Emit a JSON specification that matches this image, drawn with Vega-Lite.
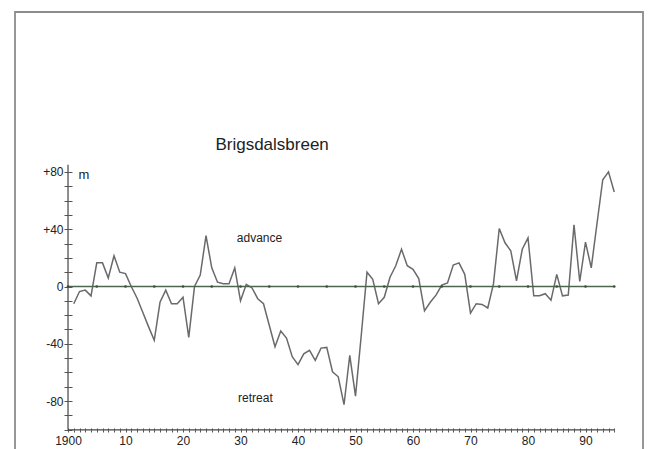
{
  "$schema": "https://vega.github.io/schema/vega-lite/v6.json",
  "width": 628,
  "height": 441,
  "autosize": {"type": "none"},
  "padding": {"left": 15, "top": 12, "right": 9, "bottom": 0},
  "background": "white",
  "config": {
    "view": {"stroke": "#8c8c8c", "strokeWidth": 1.8},
    "font": "Liberation Sans"
  },
  "resolve": {"axis": {"x": "independent", "y": "independent"}},
  "datasets": {
    "length": [
      {"year": 1901, "value": -12}, {"year": 1902, "value": -3.5}, {"year": 1903, "value": -2.5},
      {"year": 1904, "value": -6.5}, {"year": 1905, "value": 16.5}, {"year": 1906, "value": 16.5},
      {"year": 1907, "value": 6}, {"year": 1908, "value": 21.5}, {"year": 1909, "value": 10},
      {"year": 1910, "value": 9}, {"year": 1911, "value": 0}, {"year": 1912, "value": -8},
      {"year": 1913, "value": -18}, {"year": 1914, "value": -28}, {"year": 1915, "value": -37.5},
      {"year": 1916, "value": -11}, {"year": 1917, "value": -2.5}, {"year": 1918, "value": -12},
      {"year": 1919, "value": -12}, {"year": 1920, "value": -7.5}, {"year": 1921, "value": -35.5},
      {"year": 1922, "value": 0}, {"year": 1923, "value": 8}, {"year": 1924, "value": 35.5},
      {"year": 1925, "value": 13}, {"year": 1926, "value": 3}, {"year": 1927, "value": 2},
      {"year": 1928, "value": 2}, {"year": 1929, "value": 13}, {"year": 1930, "value": -10},
      {"year": 1931, "value": 1.5}, {"year": 1932, "value": -1}, {"year": 1933, "value": -8.5},
      {"year": 1934, "value": -12}, {"year": 1935, "value": -27}, {"year": 1936, "value": -42},
      {"year": 1937, "value": -31}, {"year": 1938, "value": -36}, {"year": 1939, "value": -49},
      {"year": 1940, "value": -54.5}, {"year": 1941, "value": -47}, {"year": 1942, "value": -44.5},
      {"year": 1943, "value": -51.5}, {"year": 1944, "value": -43}, {"year": 1945, "value": -42.5},
      {"year": 1946, "value": -59.5}, {"year": 1947, "value": -63}, {"year": 1948, "value": -82.5},
      {"year": 1949, "value": -48}, {"year": 1950, "value": -76.5}, {"year": 1951, "value": -34},
      {"year": 1952, "value": 10}, {"year": 1953, "value": 5}, {"year": 1954, "value": -12},
      {"year": 1955, "value": -7.5}, {"year": 1956, "value": 6.5}, {"year": 1957, "value": 14.5},
      {"year": 1958, "value": 26}, {"year": 1959, "value": 14.5}, {"year": 1960, "value": 12},
      {"year": 1961, "value": 5.5}, {"year": 1962, "value": -17}, {"year": 1963, "value": -11},
      {"year": 1964, "value": -6}, {"year": 1965, "value": 1}, {"year": 1966, "value": 2.5},
      {"year": 1967, "value": 15}, {"year": 1968, "value": 16.5}, {"year": 1969, "value": 8.5},
      {"year": 1970, "value": -18.5}, {"year": 1971, "value": -12}, {"year": 1972, "value": -12.5},
      {"year": 1973, "value": -15}, {"year": 1974, "value": 2}, {"year": 1975, "value": 40.5},
      {"year": 1976, "value": 30.5}, {"year": 1977, "value": 25}, {"year": 1978, "value": 4},
      {"year": 1979, "value": 26}, {"year": 1980, "value": 34}, {"year": 1981, "value": -6.5},
      {"year": 1982, "value": -6.5}, {"year": 1983, "value": -5}, {"year": 1984, "value": -9.5},
      {"year": 1985, "value": 8.5}, {"year": 1986, "value": -6.5}, {"year": 1987, "value": -6},
      {"year": 1988, "value": 43}, {"year": 1989, "value": 3.5}, {"year": 1990, "value": 31},
      {"year": 1991, "value": 13}, {"year": 1992, "value": 44}, {"year": 1993, "value": 74.5},
      {"year": 1994, "value": 80}, {"year": 1995, "value": 66}
    ],
    "zero": [
      {"year": 1900}, {"year": 1905}, {"year": 1910}, {"year": 1915}, {"year": 1920},
      {"year": 1925}, {"year": 1930}, {"year": 1935}, {"year": 1940}, {"year": 1945},
      {"year": 1950}, {"year": 1955}, {"year": 1960}, {"year": 1965}, {"year": 1970},
      {"year": 1975}, {"year": 1980}, {"year": 1985}, {"year": 1990}, {"year": 1995}
    ],
    "one": [{}]
  },
  "layer": [
    {
      "data": {"name": "length"},
      "mark": {"type": "line", "color": "#6a6a6a", "strokeWidth": 1.5},
      "encoding": {
        "x": {
          "field": "year", "type": "quantitative",
          "scale": {"domain": [1890.78, 2000], "nice": false, "zero": false},
          "axis": {
            "values": [1900,1901,1902,1903,1904,1905,1906,1907,1908,1909,1910,1911,1912,1913,1914,1915,1916,1917,1918,1919,1920,1921,1922,1923,1924,1925,1926,1927,1928,1929,1930,1931,1932,1933,1934,1935,1936,1937,1938,1939,1940,1941,1942,1943,1944,1945,1946,1947,1948,1949,1950,1951,1952,1953,1954,1955,1956,1957,1958,1959,1960,1961,1962,1963,1964,1965,1966,1967,1968,1969,1970,1971,1972,1973,1974,1975,1976,1977,1978,1979,1980,1981,1982,1983,1984,1985,1986,1987,1988,1989,1990,1991,1992,1993,1994,1995],
            "tickCount": 300,
            "offset": -23,
            "domain": false,
            "grid": false,
            "tickSize": 2,
            "tickColor": "#555",
            "labelExpr": "datum.value == 1900 ? '1900' : (datum.value % 10 == 0 ? '' + (datum.value - 1900) : '')",
            "labelOverlap": false,
            "labelFlush": false,
            "labelFontSize": 12,
            "labelColor": "#222",
            "labelPadding": 3,
            "title": null
          }
        },
        "y": {
          "field": "value", "type": "quantitative",
          "scale": {"domain": [-116.2, 191.6], "nice": false, "zero": false},
          "axis": {
            "values": [-100,-90,-80,-70,-60,-50,-40,-30,-20,-10,0,10,20,30,40,50,60,70,80],
            "tickCount": 100,
            "offset": -53,
            "domain": false,
            "grid": false,
            "tickSize": 4,
            "tickColor": "#555",
            "labelExpr": "datum.value % 40 == 0 ? (datum.value > 0 ? '+' + datum.value : '' + datum.value) : ''",
            "labelOverlap": false,
            "labelFlush": false,
            "labelFontSize": 12,
            "labelColor": "#222",
            "labelPadding": 1,
            "title": "m",
            "titleAngle": 0,
            "titleX": 10,
            "titleY": 162,
            "titleAlign": "left",
            "titleBaseline": "middle",
            "titleFontSize": 13,
            "titleFontWeight": "normal",
            "titleColor": "#222222"
          }
        }
      }
    },
    {
      "data": {"name": "one"},
      "mark": {"type": "rule", "color": "#4f6450", "strokeWidth": 1.3},
      "encoding": {
        "x": {
          "datum": 1900, "type": "quantitative",
          "scale": {"domain": [1890.78, 2000], "nice": false, "zero": false},
          "axis": {
            "orient": "top",
            "values": [1900,1901,1902,1903,1904,1905,1906,1907,1908,1909,1910,1911,1912,1913,1914,1915,1916,1917,1918,1919,1920,1921,1922,1923,1924,1925,1926,1927,1928,1929,1930,1931,1932,1933,1934,1935,1936,1937,1938,1939,1940,1941,1942,1943,1944,1945,1946,1947,1948,1949,1950,1951,1952,1953,1954,1955,1956,1957,1958,1959,1960,1961,1962,1963,1964,1965,1966,1967,1968,1969,1970,1971,1972,1973,1974,1975,1976,1977,1978,1979,1980,1981,1982,1983,1984,1985,1986,1987,1988,1989,1990,1991,1992,1993,1994,1995],
            "tickCount": 300,
            "offset": -418,
            "domain": false,
            "grid": false,
            "labels": false,
            "tickSize": 2,
            "tickColor": "#555",
            "title": null
          }
        },
        "x2": {"datum": 1995},
        "y": {
          "datum": 0, "type": "quantitative",
          "scale": {"domain": [-116.2, 191.6], "nice": false, "zero": false},
          "axis": {
            "orient": "right",
            "values": [-100,-90,-80,-70,-60,-50,-40,-30,-20,-10,0,10,20,30,40,50,60,70,80],
            "tickCount": 100,
            "offset": -575,
            "domain": false,
            "grid": false,
            "labels": false,
            "tickSize": 4,
            "tickColor": "#555",
            "title": null
          }
        }
      }
    },
    {
      "data": {"name": "zero"},
      "mark": {"type": "point", "filled": true, "color": "#3d4f3d", "size": 7, "opacity": 1},
      "encoding": {
        "x": {"field": "year", "type": "quantitative", "scale": {"domain": [1890.78, 2000], "nice": false, "zero": false}, "axis": null},
        "y": {"datum": 0, "type": "quantitative", "scale": {"domain": [-116.2, 191.6], "nice": false, "zero": false}, "axis": null}
      }
    },
    {
      "data": {"name": "one"},
      "mark": {"type": "rule", "color": "#444", "strokeWidth": 1.2},
      "encoding": {
        "x": {"datum": 1900, "type": "quantitative", "scale": {"domain": [1890.78, 2000], "nice": false, "zero": false}, "axis": null},
        "x2": {"datum": 1995},
        "y": {"datum": -100, "type": "quantitative", "scale": {"domain": [-116.2, 191.6], "nice": false, "zero": false}, "axis": null}
      }
    },
    {
      "data": {"name": "one"},
      "mark": {"type": "rule", "color": "#444", "strokeWidth": 1.2},
      "encoding": {
        "x": {"datum": 1900, "type": "quantitative", "scale": {"domain": [1890.78, 2000], "nice": false, "zero": false}, "axis": null},
        "y": {"datum": -100, "type": "quantitative", "scale": {"domain": [-116.2, 191.6], "nice": false, "zero": false}, "axis": null},
        "y2": {"datum": 85}
      }
    },
    {
      "data": {"name": "one"},
      "mark": {"type": "text", "fontSize": 17, "color": "#222", "align": "center", "baseline": "middle"},
      "encoding": {
        "x": {"datum": 1935.5, "type": "quantitative", "scale": {"domain": [1890.78, 2000], "nice": false, "zero": false}, "axis": null},
        "y": {"datum": 98.7, "type": "quantitative", "scale": {"domain": [-116.2, 191.6], "nice": false, "zero": false}, "axis": null},
        "text": {"value": "Brigsdalsbreen"}
      }
    },
    {
      "data": {"name": "one"},
      "mark": {"type": "text", "fontSize": 12, "color": "#222", "align": "center", "baseline": "middle"},
      "encoding": {
        "x": {"datum": 1933.3, "type": "quantitative", "scale": {"domain": [1890.78, 2000], "nice": false, "zero": false}, "axis": null},
        "y": {"datum": 33.7, "type": "quantitative", "scale": {"domain": [-116.2, 191.6], "nice": false, "zero": false}, "axis": null},
        "text": {"value": "advance"}
      }
    },
    {
      "data": {"name": "one"},
      "mark": {"type": "text", "fontSize": 12, "color": "#222", "align": "center", "baseline": "middle"},
      "encoding": {
        "x": {"datum": 1932.6, "type": "quantitative", "scale": {"domain": [1890.78, 2000], "nice": false, "zero": false}, "axis": null},
        "y": {"datum": -78, "type": "quantitative", "scale": {"domain": [-116.2, 191.6], "nice": false, "zero": false}, "axis": null},
        "text": {"value": "retreat"}
      }
    }
  ]
}
